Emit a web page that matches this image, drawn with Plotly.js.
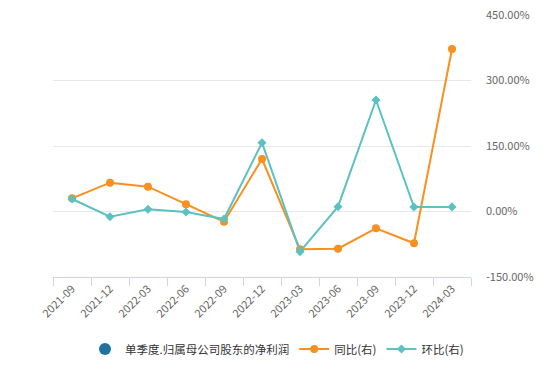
<!DOCTYPE html>
<html>
<head>
<meta charset="utf-8">
<script src="https://cdn.plot.ly/plotly-3.0.1.min.js"></script>
<style>html,body{margin:0;padding:0;background:#fff;}#chart{width:554px;height:373px;}</style>
</head>
<body>
<div id="chart"></div>
<script>
const categories = ["2021-09","2021-12","2022-03","2022-06","2022-09","2022-12","2023-03","2023-06","2023-09","2023-12","2024-03"];
const yoy = [30.2, 66.0, 56.8, 16.5, -23.4, 120.2, -86.6, -85.2, -38.5, -72.8, 372.0];
const qoq = [28.6, -11.9, 5.0, -1.1, -17.2, 157.6, -92.0, 11.0, 255.3, 10.3, 10.5];
const yTickVals = [-150, 0, 150, 300, 450];
const yTickText = ["-150.00%", "0.00%", "150.00%", "300.00%", "450.00%"];
const seriesNames = ["单季度.归属母公司股东的净利润", "同比(右)", "环比(右)"];

const font = "'Noto Sans CJK SC', 'Noto Sans', sans-serif";
const traces = [
  {type: "scatter", mode: "markers", name: seriesNames[0], x: [categories[0]], y: [null],
   marker: {symbol: "circle", size: 12, color: "#21719F"}, showlegend: true},
  {type: "scatter", mode: "lines+markers", name: seriesNames[1], x: categories, y: yoy,
   line: {color: "#F7901E", width: 2}, marker: {symbol: "circle", size: 8, color: "#F7901E"}},
  {type: "scatter", mode: "lines+markers", name: seriesNames[2], x: categories, y: qoq,
   line: {color: "#5CC1C1", width: 2}, marker: {symbol: "diamond", size: 7, color: "#5CC1C1"}}
];
const layout = {
  width: 554, height: 373, autosize: false,
  margin: {l: 0, r: 0, t: 0, b: 0},
  paper_bgcolor: "#fff", plot_bgcolor: "#fff",
  font: {family: font, size: 11, color: "#666"},
  showlegend: true,
  xaxis: {type: "category", domain: [53/554, 471/554], range: [-0.5, 10.5],
    tickangle: -45, tickson: "boundaries", ticks: "outside", ticklen: 8, tickcolor: "#ccd6eb",
    showline: true, linecolor: "#ccd6eb", linewidth: 1, showgrid: false, zeroline: false,
    tickfont: {family: font, size: 11, color: "#666"}, anchor: "y"},
  yaxis: {domain: [96/373, 358/373], range: [-150, 450], side: "right", anchor: "x",
    tickvals: yTickVals, ticktext: yTickText, ticks: "", ticklabelstandoff: 14,
    showgrid: true, gridcolor: "#e8e8e8", gridwidth: 1, zeroline: false, showline: false,
    tickfont: {family: font, size: 11, color: "#666"}},
  legend: {orientation: "h", x: 0.5, xanchor: "center", y: 24/373, yanchor: "middle",
    itemwidth: 30, font: {family: font, size: 11.5, color: "#333"}, bgcolor: "rgba(0,0,0,0)"}
};
Plotly.newPlot("chart", traces, layout, {staticPlot: true, displayModeBar: false});
</script>
</body>
</html>
